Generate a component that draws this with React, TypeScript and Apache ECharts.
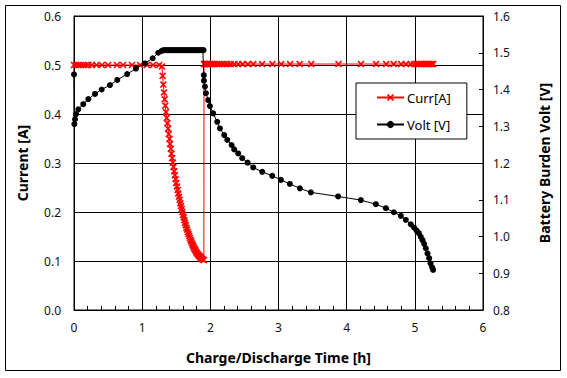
import React, { useEffect, useRef } from "react";
import * as echarts from "echarts";

// ---- tick labels ----
const xTickLabels = ["0", "1", "2", "3", "4", "5", "6"];
const leftTickLabels = ["0.0", "0.1", "0.2", "0.3", "0.4", "0.5", "0.6"];
const rightTickLabels = ["0.8", "0.9", "1.0", "1.1", "1.2", "1.3", "1.4", "1.5", "1.6"];

// ---- Current [A] (left axis) ----
const currTime = [
  0, 0.03, 0.063, 0.098, 0.136, 0.176, 0.21, 0.26, 0.33, 0.41, 0.5, 0.63, 0.72, 0.85, 0.97, 1.07, 1.16, 1.25,
  1.29, 1.3, 1.31, 1.32, 1.33, 1.34, 1.35, 1.36, 1.37, 1.38, 1.39, 1.4, 1.41, 1.42, 1.43, 1.44, 1.45, 1.46, 1.47,
  1.48, 1.49, 1.5, 1.51, 1.52, 1.53, 1.54, 1.55, 1.56, 1.57, 1.58, 1.59, 1.6, 1.61, 1.62, 1.63, 1.64, 1.65, 1.66,
  1.67, 1.68, 1.69, 1.7, 1.71, 1.72, 1.73, 1.74, 1.75, 1.76, 1.77, 1.78, 1.79, 1.8, 1.81, 1.82, 1.83, 1.84, 1.85,
  1.86, 1.87, 1.88, 1.89, 1.905,
  1.907, 1.915, 1.925, 1.935, 1.95, 1.965, 1.98, 2.0, 2.02, 2.04, 2.07, 2.1, 2.13, 2.17, 2.21, 2.25, 2.3, 2.35,
  2.41, 2.47, 2.55, 2.63, 2.76, 2.91, 3.04, 3.17, 3.31, 3.48, 3.88, 4.21, 4.43, 4.58, 4.69, 4.8, 4.87, 4.94, 4.99,
  5.03, 5.06, 5.09, 5.11, 5.14, 5.16, 5.19, 5.21, 5.23, 5.25, 5.27,
];
const currValue = [
  0.5, 0.5, 0.5, 0.5, 0.5, 0.5, 0.5, 0.5, 0.5, 0.5, 0.5, 0.5, 0.5, 0.5, 0.5, 0.5, 0.5, 0.5,
  0.497, 0.478, 0.46, 0.444, 0.43, 0.417, 0.404, 0.392, 0.381, 0.37, 0.359, 0.349, 0.339, 0.329, 0.319, 0.31, 0.301,
  0.292, 0.283, 0.275, 0.267, 0.259, 0.252, 0.245, 0.238, 0.231, 0.225, 0.218, 0.212, 0.206, 0.2, 0.194, 0.189,
  0.183, 0.178, 0.173, 0.168, 0.164, 0.159, 0.155, 0.151, 0.147, 0.143, 0.14, 0.136, 0.133, 0.13, 0.127, 0.124,
  0.122, 0.119, 0.117, 0.115, 0.113, 0.111, 0.11, 0.108, 0.107, 0.105, 0.104, 0.103, 0.102,
  0.502, 0.502, 0.502, 0.502, 0.502, 0.502, 0.502, 0.502, 0.502, 0.502, 0.502, 0.502, 0.502, 0.502, 0.502, 0.502,
  0.502, 0.502, 0.502, 0.502, 0.502, 0.502, 0.502, 0.502, 0.502, 0.502, 0.502, 0.502, 0.502, 0.502, 0.502, 0.502,
  0.502, 0.502, 0.502, 0.502, 0.502, 0.502, 0.502, 0.502, 0.502, 0.502, 0.502, 0.502, 0.502, 0.502, 0.502, 0.502,
];

// ---- Volt [V] (right axis) ----
const voltTime = [
  0, 0.005, 0.015, 0.03, 0.063, 0.136, 0.21, 0.308, 0.406, 0.528, 0.635, 0.78, 0.909, 1.04, 1.154, 1.236, 1.286,
  1.31, 1.33, 1.35, 1.37, 1.39, 1.41, 1.43, 1.45, 1.47, 1.49, 1.51, 1.53, 1.55, 1.57, 1.59, 1.61, 1.63, 1.65, 1.67,
  1.69, 1.71, 1.73, 1.75, 1.77, 1.79, 1.81, 1.83, 1.85, 1.87, 1.89, 1.9,
  1.904, 1.906, 1.921, 1.935, 1.969, 1.994, 2.042, 2.101, 2.141, 2.204, 2.248, 2.312, 2.35, 2.409, 2.468, 2.547,
  2.629, 2.761, 2.908, 3.035, 3.167, 3.314, 3.475, 3.875, 4.208, 4.428, 4.575, 4.692, 4.795, 4.868, 4.941, 4.99,
  5.025, 5.059, 5.088, 5.113, 5.136, 5.161, 5.186, 5.21, 5.23, 5.254, 5.268,
];
const voltValue = [
  1.441, 1.306, 1.319, 1.333, 1.346, 1.36, 1.374, 1.388, 1.4, 1.412, 1.426, 1.442, 1.457, 1.471, 1.485, 1.5, 1.505,
  1.507, 1.507, 1.507, 1.507, 1.507, 1.507, 1.507, 1.507, 1.507, 1.507, 1.507, 1.507, 1.507, 1.507, 1.507, 1.507,
  1.507, 1.507, 1.507, 1.507, 1.507, 1.507, 1.507, 1.507, 1.507, 1.507, 1.507, 1.507, 1.507, 1.507, 1.507,
  1.439, 1.424, 1.408, 1.39, 1.371, 1.355, 1.335, 1.312, 1.294, 1.276, 1.263, 1.249, 1.237, 1.226, 1.213, 1.201,
  1.188, 1.176, 1.165, 1.154, 1.143, 1.131, 1.12, 1.109, 1.099, 1.088, 1.077, 1.066, 1.056, 1.045, 1.033, 1.024,
  1.016, 1.009, 0.999, 0.99, 0.98, 0.968, 0.954, 0.941, 0.927, 0.916, 0.909,
];

const FONT = "'Noto Sans', 'Open Sans', sans-serif";
const X_MARK = "path://M0,1.6L1.6,0L5,3.4L8.4,0L10,1.6L6.6,5L10,8.4L8.4,10L5,6.6L1.6,10L0,8.4L3.4,5Z";

export default function App() {
  const ref = useRef<HTMLDivElement>(null);

  useEffect(() => {
    if (!ref.current) return;
    const chart = echarts.init(ref.current, undefined, { renderer: "svg" });

    const currData = currTime.map((t, i) => [t, currValue[i]]);
    const voltData = voltTime.map((t, i) => [t, voltValue[i]]);

    chart.setOption({
      animation: false,
      backgroundColor: "#fff",
      textStyle: { fontFamily: FONT },
      grid: {
        left: 74,
        right: 84,
        top: 16,
        bottom: 68,
        show: true,
        borderColor: "#000",
        borderWidth: 1,
        backgroundColor: "transparent",
      },
      graphic: [
        {
          type: "rect",
          shape: { x: 5.5, y: 5.5, width: 555, height: 365 },
          style: { fill: "none", stroke: "#000", lineWidth: 1 },
          silent: true,
          z: -10,
        },
      ],
      legend: {
        orient: "vertical",
        left: 356,
        top: 83,
        padding: [8, 16, 8, 20],
        itemGap: 14,
        itemWidth: 27,
        itemHeight: 9,
        backgroundColor: "#fff",
        borderColor: "#000",
        borderWidth: 1,
        borderRadius: 0,
        textStyle: { fontFamily: FONT, fontSize: 13, color: "#000", padding: [0, 0, 0, -2] },
        data: ["Curr[A]", "Volt [V]"],
      },
      xAxis: {
        type: "value",
        min: 0,
        max: 6,
        interval: 1,
        name: "Charge/Discharge Time [h]",
        nameLocation: "middle",
        nameGap: 40,
        nameTextStyle: { fontFamily: FONT, fontSize: 14, fontWeight: "bold", color: "#000" },
        axisLine: { show: true, lineStyle: { color: "#000", width: 1 } },
        axisTick: { show: true, inside: true, length: 4, lineStyle: { color: "#000" } },
        minorTick: { show: true, splitNumber: 5, length: 4, lineStyle: { color: "#000", width: 1 } },
        axisLabel: {
          fontFamily: FONT,
          fontSize: 12,
          color: "#111",
          margin: 11,
          formatter: (v: number) => xTickLabels[Math.round(v)] ?? String(v),
        },
        splitLine: { show: true, lineStyle: { color: "#000", width: 1 } },
      },
      yAxis: [
        {
          type: "value",
          min: 0,
          max: 0.6,
          interval: 0.1,
          name: "Current [A]",
          nameLocation: "middle",
          nameGap: 45,
          nameRotate: 90,
          nameTextStyle: { fontFamily: FONT, fontSize: 14, fontWeight: "bold", color: "#000" },
          axisLine: { show: true, lineStyle: { color: "#000" } },
          axisTick: { show: false },
          axisLabel: {
            fontFamily: FONT,
            fontSize: 12,
            color: "#111",
            margin: 13,
            formatter: (v: number) => leftTickLabels[Math.round(v * 10)] ?? v.toFixed(1),
          },
          splitLine: { show: true, lineStyle: { color: "#000", width: 1 } },
        },
        {
          type: "value",
          min: 0.8,
          max: 1.6,
          interval: 0.1,
          position: "right",
          name: "Battery Burden Volt [V]",
          nameLocation: "middle",
          nameGap: 54,
          nameRotate: 90,
          nameTextStyle: { fontFamily: FONT, fontSize: 14, fontWeight: "bold", color: "#000" },
          axisLine: { show: true, lineStyle: { color: "#000" } },
          axisTick: { show: true, inside: true, length: 4, lineStyle: { color: "#000" } },
          axisLabel: {
            fontFamily: FONT,
            fontSize: 12,
            color: "#111",
            margin: 10,
            formatter: (v: number) => rightTickLabels[Math.round((v - 0.8) * 10)] ?? v.toFixed(1),
          },
          splitLine: { show: false },
        },
      ],
      series: [
        {
          name: "Curr[A]",
          type: "line",
          yAxisIndex: 0,
          data: currData,
          symbol: X_MARK,
          symbolSize: 7,
          showAllSymbol: true,
          lineStyle: { color: "#ff0000", width: 1 },
          itemStyle: { color: "#ff0000" },
          z: 2,
        },
        {
          name: "Volt [V]",
          type: "line",
          yAxisIndex: 1,
          data: voltData,
          symbol: "circle",
          symbolSize: 6,
          showAllSymbol: true,
          lineStyle: { color: "#000", width: 1 },
          itemStyle: { color: "#000" },
          z: 3,
        },
      ],
    });

    return () => chart.dispose();
  }, []);

  return (
    <div
      ref={ref}
      style={{ position: "absolute", left: 0, top: 0, width: 567, height: 378, background: "#fff" }}
    />
  );
}
